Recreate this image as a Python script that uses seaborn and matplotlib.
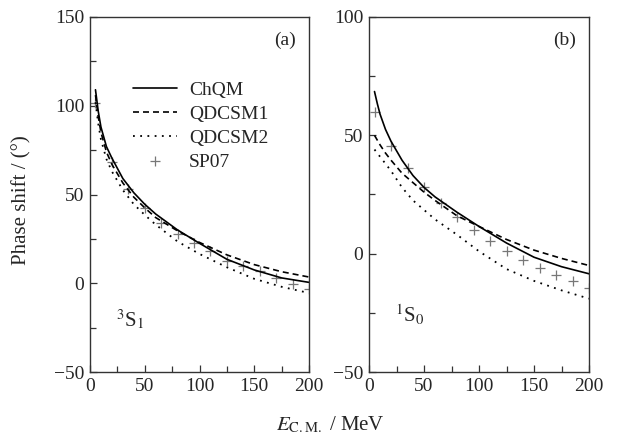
import pandas as pd
import matplotlib
matplotlib.use("Agg")
import matplotlib.pyplot as plt
from matplotlib.ticker import MultipleLocator
import seaborn as sns

# energies (MeV, C.M.) where the model curves were read
e_model = [5, 7.5, 10, 15, 20, 30, 40, 50, 60, 80, 100, 125, 150, 175, 200]
# energies of the SP07 points
e_sp07 = [5, 20, 35, 50, 65, 80, 95, 110, 125, 140, 155, 170, 185, 200]

# (a) 3S1
a_chqm = [109, 97, 88, 77, 70.5, 59, 51, 44.5, 39, 30, 22.5, 13.5, 7.5, 3, 0.5]
a_qdcsm1 = [106, 94, 85, 74, 67, 56.5, 48.5, 42.5, 37, 29.5, 23, 16, 10.5, 6.5, 3.5]
a_qdcsm2 = [102, 90, 81, 70, 63, 52.5, 44.5, 38.5, 33, 23.5, 16.5, 9, 2.5, -2, -5.5]
a_sp07 = [101.5, 68.5, 53, 42.5, 34, 28, 22.7, 18.4, 12.7, 9.6, 6.8, 3.0, -0.2, -3]

# (b) 1S0
b_chqm = [68.5, 63.5, 59, 52.5, 47.5, 39.5, 33, 28, 24, 17.5, 11.5, 4.5, -1.5, -5.5, -8.5]
b_qdcsm1 = [50, 48, 46, 42.5, 39.5, 34, 30, 26, 22.5, 16, 11.5, 6, 1.5, -2, -5]
b_qdcsm2 = [44, 42.5, 41, 38, 35, 28, 22.5, 18.5, 14.5, 8, 1, -6.5, -11.5, -15.5, -19]
b_sp07 = [60, 45.5, 36, 28.2, 21.2, 15.5, 10, 5.4, 1.1, -2.7, -5.9, -9.1, -11.7, -14.6]

sns.set_style("ticks")
plt.rcParams["font.family"] = ["Liberation Serif", "DejaVu Serif"]
plt.rcParams["mathtext.fontset"] = "stix"
plt.rcParams["font.size"] = 14

fig = plt.figure(figsize=(6.24, 4.44), dpi=100)
ax_a = fig.add_axes([90 / 624, 1 - 372 / 444, 219 / 624, 355 / 444])
ax_b = fig.add_axes([369 / 624, 1 - 372 / 444, 220 / 624, 355 / 444])

styles = {
    "ChQM": dict(linestyle="-", linewidth=1.2),
    "QDCSM1": dict(linestyle=(0, (3.6, 2.4)), linewidth=1.2),
    "QDCSM2": dict(linestyle=(0, (1, 3)), linewidth=1.3),
}

panels = [
    (ax_a, a_chqm, a_qdcsm1, a_qdcsm2, a_sp07, (-50, 150), "(a)", "$^3$S$_1$", 0.145),
    (ax_b, b_chqm, b_qdcsm1, b_qdcsm2, b_sp07, (-50, 100), "(b)", "$^1$S$_0$", 0.16),
]

for ax, chqm, q1, q2, sp, ylim, tag, wave, wy in panels:
    curves = pd.DataFrame({"E": e_model, "ChQM": chqm, "QDCSM1": q1, "QDCSM2": q2})
    for name in ["ChQM", "QDCSM1", "QDCSM2"]:
        sns.lineplot(data=curves, x="E", y=name, ax=ax, color="black",
                     label=name, **styles[name])
    pts = pd.DataFrame({"E": e_sp07, "delta": sp})
    sns.scatterplot(data=pts, x="E", y="delta", ax=ax, marker="+", s=45,
                    color="#777777", linewidth=0.9, label="SP07")

    ax.set_xlim(0, 200)
    ax.set_ylim(*ylim)
    ax.xaxis.set_major_locator(MultipleLocator(50))
    ax.xaxis.set_minor_locator(MultipleLocator(25))
    ax.yaxis.set_major_locator(MultipleLocator(50))
    ax.yaxis.set_minor_locator(MultipleLocator(25))
    ax.tick_params(which="both", direction="in", labelsize=14, color="#333333", pad=4)
    ax.tick_params(which="major", length=5, width=0.9)
    ax.tick_params(which="minor", length=4, width=0.9)
    for s in ax.spines.values():
        s.set_visible(True)
        s.set_color("#333333")
        s.set_linewidth(1.0)
    ax.set_xlabel("")
    ax.set_ylabel("")
    ax.text(0.94, 0.935, tag, transform=ax.transAxes, ha="right", va="center", fontsize=14)
    ax.text(0.12, wy, wave, transform=ax.transAxes, ha="left", va="center", fontsize=15)

ax_b.get_legend().remove()
ax_a.legend(loc="upper left", bbox_to_anchor=(0.195, 0.82), frameon=False,
            fontsize=14, handlelength=2.3, handletextpad=0.6, labelspacing=0.33,
            borderpad=0, borderaxespad=0)

fig.text(22 / 624, 1 - 200 / 444, "Phase shift / (°)", rotation=90,
         ha="center", va="center", fontsize=15)
fig.text(330 / 624, 1 - 425 / 444, "$E_{\\rm C.M.}$ / MeV", ha="center",
         va="center", fontsize=15)

fig.savefig("out.png", dpi=100)
